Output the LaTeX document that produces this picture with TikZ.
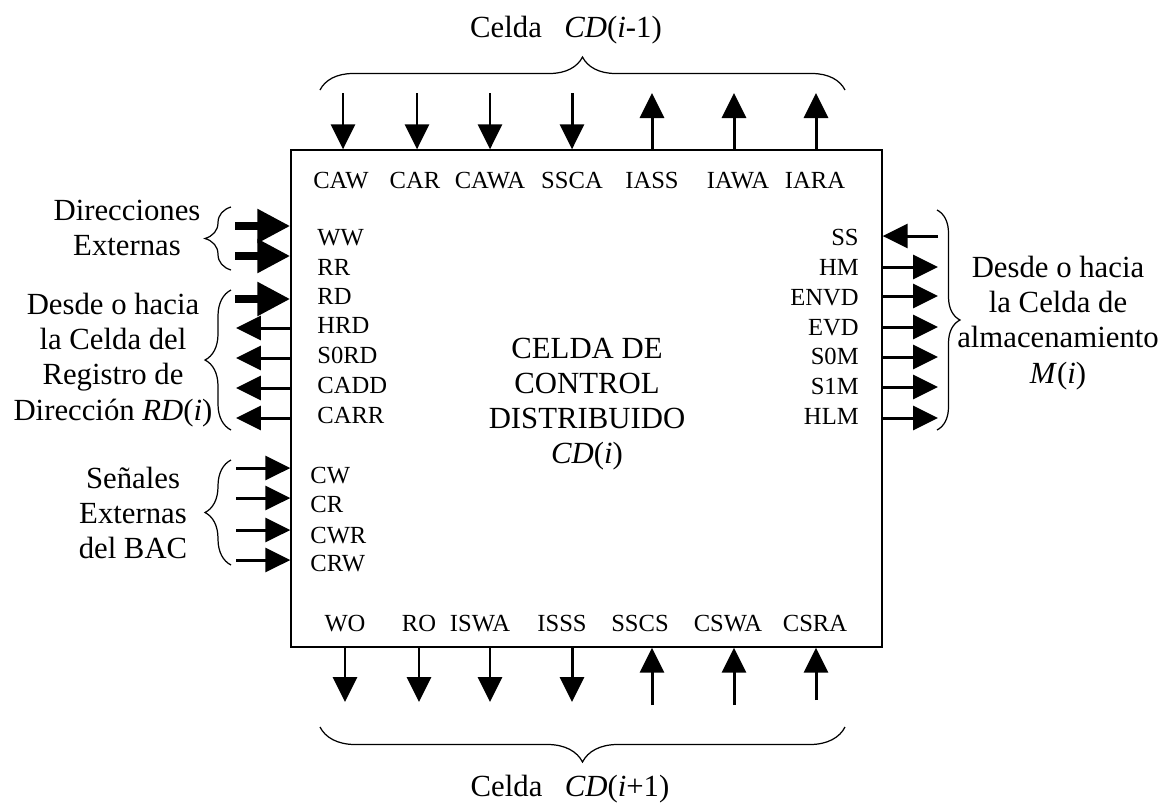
\documentclass[tikz,border=0pt]{standalone}
\usepackage{fontspec}
\setmainfont{Liberation Serif}
\usetikzlibrary{arrows.meta, decorations.pathreplacing}

\begin{document}
\begin{tikzpicture}[
    x=0.02cm, y=-0.02cm,
    cell/.style={draw, line width=0.8pt, minimum width=11.82cm,
                 minimum height=9.94cm, inner sep=0pt},
    big/.style={align=center, inner sep=0pt, font=\fontsize{17.5}{20}\selectfont},
    sig/.style={inner sep=0pt, text height=9.3pt, text depth=0pt,
                font=\fontsize{14}{16}\selectfont},
    arr/.style={line width=1.7pt, -{Triangle[length=0.5cm, width=0.48cm]}},
    fat/.style={line width=5pt, -{Triangle[length=0.66cm, width=0.64cm]}},
    curly/.style={decorate, decoration={brace, amplitude=#1}, line width=0.7pt}
]
\useasboundingbox (0,0) rectangle (1163,802);

% Main cell
\node[cell] (cell) at (586.5,398.5) {};
\node[big] (core) at (587,404) {CELDA DE\\CONTROL\\DISTRIBUIDO\\\textit{CD}(\textit{i})};

% Neighbour cells
\node[big] (prev) at (566,30) {Celda\hspace{0.45cm}\textit{CD}(\textit{i}-1)};
\node[big] (next) at (570,789) {Celda\hspace{0.45cm}\textit{CD}(\textit{i}+1)};
\draw[curly=0.66cm] (320,90) -- (845,90);
\draw[curly=0.7cm] (845,727) -- (320,727);

% Side groups
\node[big] (dirext) at (127,228) {Direcciones\\Externas};
\node[big] (regdir) at (113,360) {Desde o hacia\\la Celda del\\Registro de\\Dirección \textit{RD}(\textit{i})};
\node[big] (senal)  at (133,513) {Señales\\Externas\\del BAC};
\node[big] (almac)  at (1058,323) {Desde o hacia\\la Celda de\\almacenamiento\\\textit{M}(\textit{i})};
\draw[curly=0.52cm] (231,270) -- (231,207);
\draw[curly=0.52cm] (231,430) -- (231,290);
\draw[curly=0.52cm] (231,565) -- (231,460);
\draw[curly=0.46cm] (937,210) -- (937,430);

% Top signals
\foreach \x/\t in {341/CAW, 415/CAR, 490/CAWA, 572/SSCA, 652/IASS, 738/IAWA, 815/IARA}
    \node[sig] (top-\t) at (\x,180) {\t};
\foreach \x/\n in {343/caw, 417/car, 490/cawa, 572/ssca} {
    \coordinate (in-\n) at (\x,93);
    \draw[arr] (in-\n) -- (in-\n |- cell.north);
}
\foreach \x/\n in {652/iass, 734/iawa, 816/iara} {
    \coordinate (out-\n) at (\x,93);
    \draw[arr] (out-\n |- cell.north) -- (out-\n);
}

% Bottom signals
\foreach \x/\t in {345/WO, 419/RO, 480/ISWA, 562/ISSS, 640/SSCS, 728/CSWA, 815/CSRA}
    \node[sig] (bot-\t) at (\x,623) {\t};
\foreach \x/\n in {345/wo, 419/ro, 490/iswa, 572/isss} {
    \coordinate (out-\n) at (\x,702);
    \draw[arr] (out-\n |- cell.south) -- (out-\n);
}
\foreach \x/\y/\n in {652/705/sscs, 734/705/cswa, 816/700/csra} {
    \coordinate (in-\n) at (\x,\y);
    \draw[arr] (in-\n) -- (in-\n |- cell.south);
}

% Left signals
\foreach \y/\t in {237/WW, 267/RR, 296/RD, 325/HRD, 355/S0RD, 385/CADD, 415/CARR}
    \node[sig, anchor=west] (lft-\t) at (317,\y) {\t};
\foreach \y/\t in {475/CW, 504/CR, 535/CWR, 563/CRW}
    \node[sig, anchor=west] (lft-\t) at (310,\y) {\t};
\foreach \y/\n in {226/ww, 256/rr, 299/rd} {
    \coordinate (in-\n) at (235,\y);
    \draw[fat] (in-\n) -- (in-\n -| cell.west);
}
\foreach \y/\n in {328/hrd, 358/s0rd, 388/cadd, 418/carr} {
    \coordinate (out-\n) at (236,\y);
    \draw[arr] (out-\n -| cell.west) -- (out-\n);
}
\foreach \y/\n in {468/cw, 498/cr, 530/cwr, 560/crw} {
    \coordinate (in-\n) at (236,\y);
    \draw[arr] (in-\n) -- (in-\n -| cell.west);
}

% Right signals
\foreach \y/\t in {237/SS, 267/HM, 297/ENVD, 327/EVD, 356/S0M, 386/S1M, 416/HLM}
    \node[sig, anchor=east] (rgt-\t) at (859,\y) {\t};
\coordinate (in-ss) at (938,236);
\draw[arr] (in-ss) -- (in-ss -| cell.east);
\foreach \y/\n in {267/hm, 296/envd, 327/evd, 357/s0m, 387/s1m, 418/hlm} {
    \coordinate (out-\n) at (938,\y);
    \draw[arr] (out-\n -| cell.east) -- (out-\n);
}
\end{tikzpicture}
\end{document}
